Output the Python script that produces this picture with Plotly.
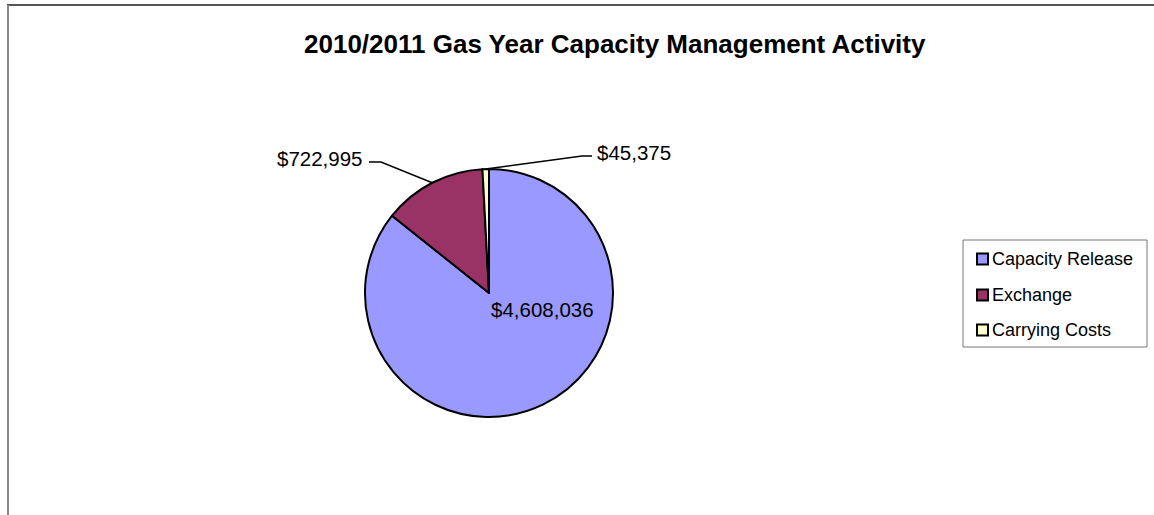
import math
import plotly.graph_objects as go

# ---- data ----
categories = ["Capacity Release", "Exchange", "Carrying Costs"]
values = [4608036, 722995, 45375]
colors = ["#9999FF", "#993366", "#FFFFCC"]
title_text = "2010/2011 Gas Year Capacity Management Activity"

W, H = 1154, 515
FONT = "Liberation Sans, Arial, sans-serif"

# pie geometry (layout)
CX, CY, R = 489, 293, 124


def px(x):
    return x / W


def py(y):
    return 1 - y / H


def fmt(v):
    return "${:,}".format(v)


fig = go.Figure()
fig.add_trace(go.Pie(
    labels=categories,
    values=values,
    sort=False,
    direction="clockwise",
    rotation=0,
    textinfo="none",
    hoverinfo="label+value+percent",
    showlegend=False,
    marker=dict(colors=colors, line=dict(color="black", width=2)),
    domain=dict(x=[px(CX - R), px(CX + R)], y=[py(CY + R), py(CY - R)]),
))

# compute slice mid-angles from data
total = sum(values)
cum = 0
mids = []
for v in values:
    mids.append((cum + v / 2) / total * 2 * math.pi)
    cum += v


def edge(theta, r=R):
    return CX + r * math.sin(theta), CY - r * math.cos(theta)


shapes = []
annotations = []

# frame lines (top and left)
shapes.append(dict(type="line", xref="paper", yref="paper",
                   x0=px(7), x1=px(W), y0=py(5), y1=py(5),
                   line=dict(color="#555555", width=2)))
shapes.append(dict(type="line", xref="paper", yref="paper",
                   x0=px(8), x1=px(8), y0=py(5), y1=py(H),
                   line=dict(color="#888888", width=2)))

# title
annotations.append(dict(text="<b>" + title_text + "</b>", xref="paper", yref="paper",
                        x=px(615), y=py(44), xanchor="center", yanchor="middle",
                        showarrow=False, font=dict(family=FONT, size=26, color="black")))

# data labels
# Capacity Release (inside)
annotations.append(dict(text=fmt(values[0]), xref="paper", yref="paper",
                        x=px(542), y=py(309), xanchor="center", yanchor="middle",
                        showarrow=False, font=dict(family=FONT, size=20.5, color="black")))

# Exchange (outside, left)
ex, ey = edge(mids[1])
shapes.append(dict(type="path", xref="paper", yref="paper",
                   path="M {},{} L {},{} L {},{}".format(px(369), py(162), px(381), py(162), px(ex), py(ey)),
                   line=dict(color="black", width=1.5)))
annotations.append(dict(text=fmt(values[1]), xref="paper", yref="paper",
                        x=px(365), y=py(158), xanchor="right", yanchor="middle",
                        showarrow=False, font=dict(family=FONT, size=20.5, color="black")))

# Carrying Costs (outside, right)
cx_, cy_ = edge(mids[2])
shapes.append(dict(type="path", xref="paper", yref="paper",
                   path="M {},{} L {},{} L {},{}".format(px(cx_), py(cy_), px(582), py(156), px(592), py(156)),
                   line=dict(color="black", width=1.5)))
annotations.append(dict(text=fmt(values[2]), xref="paper", yref="paper",
                        x=px(595), y=py(152), xanchor="left", yanchor="middle",
                        showarrow=False, font=dict(family=FONT, size=20.5, color="black")))

# legend (manual)
shapes.append(dict(type="rect", xref="paper", yref="paper",
                   x0=px(963), x1=px(1147), y0=py(347), y1=py(240),
                   line=dict(color="#777777", width=1), fillcolor="white"))
rows = [259, 295, 330]
for name, col, ry in zip(categories, colors, rows):
    shapes.append(dict(type="rect", xref="paper", yref="paper",
                       x0=px(977), x1=px(988), y0=py(ry + 5.5), y1=py(ry - 5.5),
                       line=dict(color="black", width=2), fillcolor=col))
    annotations.append(dict(text=name, xref="paper", yref="paper",
                            x=px(990), y=py(ry), xanchor="left", yanchor="middle",
                            showarrow=False, font=dict(family=FONT, size=18, color="black")))

fig.update_layout(
    width=W, height=H,
    margin=dict(l=0, r=0, t=0, b=0),
    paper_bgcolor="white",
    plot_bgcolor="white",
    shapes=shapes,
    annotations=annotations,
    showlegend=False,
)

fig.write_html("out.html")
